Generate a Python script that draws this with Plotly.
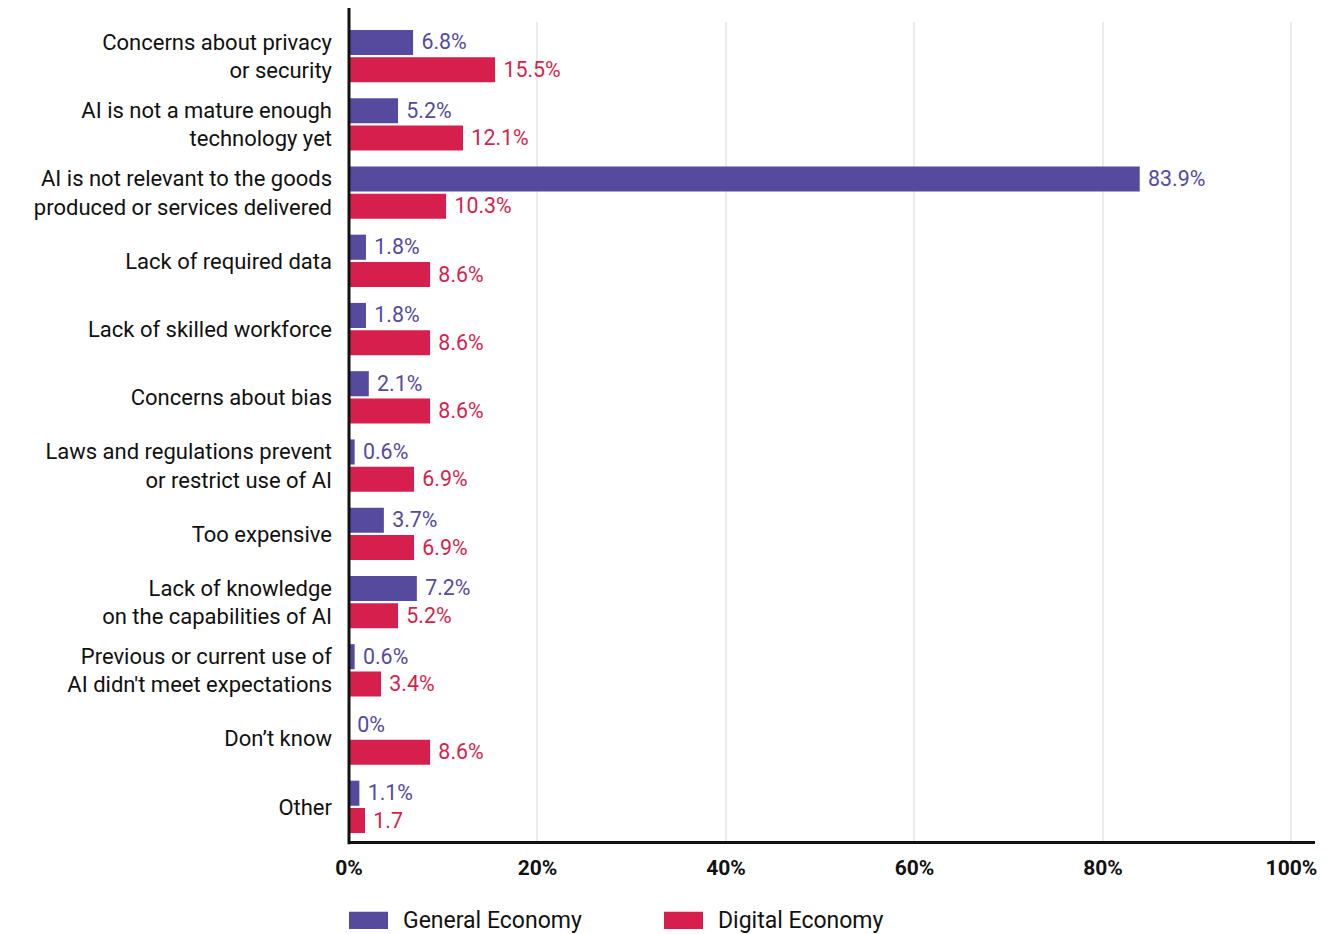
import plotly.graph_objects as go

categories = [
    "Concerns about privacy<br>or security",
    "AI is not a mature enough<br>technology yet",
    "AI is not relevant to the goods<br>produced or services delivered",
    "Lack of required data",
    "Lack of skilled workforce",
    "Concerns about bias",
    "Laws and regulations prevent<br>or restrict use of AI",
    "Too expensive",
    "Lack of knowledge<br>on the capabilities of AI",
    "Previous or current use of<br>AI didn't meet expectations",
    "Don’t know",
    "Other",
]
general_economy = [6.8, 5.2, 83.9, 1.8, 1.8, 2.1, 0.6, 3.7, 7.2, 0.6, 0, 1.1]
digital_economy = [15.5, 12.1, 10.3, 8.6, 8.6, 8.6, 6.9, 6.9, 5.2, 3.4, 8.6, 1.7]
general_labels = [f"{v:g}%" for v in general_economy]
digital_labels = [f"{v:g}%" for v in digital_economy[:-1]] + [f"{digital_economy[-1]:g}"]
x_ticks = [0, 20, 40, 60, 80, 100]
x_tick_text = [f"{t}%" for t in x_ticks]
series_names = ["General Economy", "Digital Economy"]

PURPLE = "#564A9E"
RED = "#D71F4D"
FONT = "Roboto"
NBSP = "\u00a0"

fig = go.Figure()
for name, vals, labels, color in [
    (series_names[0], general_economy, general_labels, PURPLE),
    (series_names[1], digital_economy, digital_labels, RED),
]:
    fig.add_trace(go.Bar(
        y=categories, x=vals, orientation="h", name=name,
        marker=dict(color=color, line=dict(width=0)),
        text=[NBSP + s for s in labels], textposition="outside", cliponaxis=False,
        textfont=dict(family=FONT, size=23, color=color),
        showlegend=False,
    ))

fig.update_layout(
    width=1330, height=934,
    margin=dict(l=349, r=15, t=22, b=93),
    paper_bgcolor="white", plot_bgcolor="white",
    barmode="group", bargap=0.2, bargroupgap=0.08,
    font=dict(family=FONT, color="#111111"),
    xaxis=dict(
        range=[0, 102.5], tickvals=x_ticks, ticktext=x_tick_text,
        showgrid=True, gridcolor="#EBEBEB", gridwidth=2,
        zeroline=False, showline=True, linecolor="#111111", linewidth=3,
        tickfont=dict(family=FONT, size=21, color="#111111", weight=700),
        ticks="", ticklabelstandoff=6,
    ),
    yaxis=dict(
        autorange="reversed", showgrid=False, zeroline=False, showline=False,
        tickfont=dict(family=FONT, size=22, color="#111111"),
        ticks="", ticklabelstandoff=16,
    ),
)

# left axis line, extending slightly above the plotting area
fig.add_shape(type="line", xref="paper", yref="paper", x0=0, x1=0, y0=-0.004, y1=1.017,
              line=dict(color="#111111", width=3))

# legend drawn beneath the axis
legend_y = -0.097
for i, (name, color) in enumerate(zip(series_names, [PURPLE, RED])):
    x0 = i * 315 / 966
    fig.add_shape(type="rect", xref="paper", yref="paper",
                  x0=x0, x1=x0 + 39 / 966, y0=legend_y - 0.0105, y1=legend_y + 0.0105,
                  fillcolor=color, line=dict(width=0))
    fig.add_annotation(xref="paper", yref="paper", x=x0 + 52 / 966, y=legend_y,
                       text=name, showarrow=False, xanchor="left", yanchor="middle",
                       font=dict(family=FONT, size=23, color="#111111"))

fig.write_html("out.html")
